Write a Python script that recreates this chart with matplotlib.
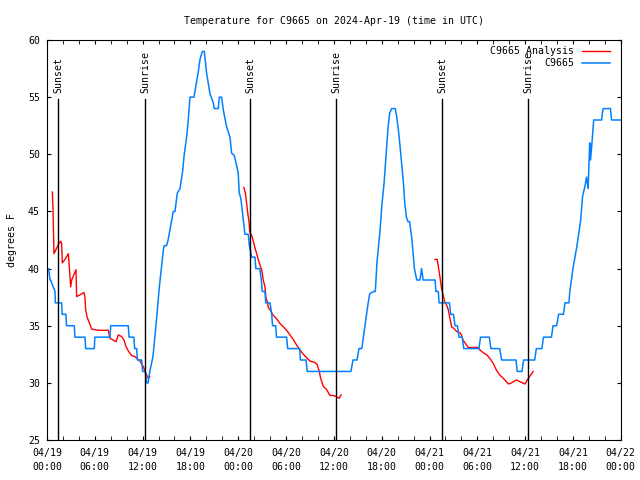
import numpy as np
import pandas as pd
import matplotlib
matplotlib.use('Agg')
import matplotlib.pyplot as plt
import matplotlib.dates as mdates

start = pd.Timestamp('2024-04-19 00:00')

# observed station temps (hours since 04/19 00:00 UTC, deg F)
obs_hours = [0.0, 0.2, 0.38, 0.45, 1.0, 1.05, 1.84, 1.9, 2.38, 2.45,
             3.43, 3.5, 4.77, 4.85, 5.94, 6.0, 7.9, 8.0, 10.2, 10.3,
             10.9, 11.0, 11.25, 11.35, 11.88, 12.0, 12.33, 12.5, 12.7, 12.9,
             13.3, 13.7, 14.1, 14.6, 14.7, 15.0, 15.2, 15.85, 16.06, 16.35,
             16.69, 17.02, 17.19, 17.52, 17.73, 17.94, 18.44, 18.78, 18.98, 19.2,
             19.49, 19.74, 20.03, 20.45, 20.87, 20.99, 21.49, 21.62, 21.91, 22.12,
             22.54, 22.96, 23.17, 23.5, 23.8, 24.0, 24.13, 24.3, 24.4, 24.6,
             24.84, 25.26, 25.4, 25.68, 26.1, 26.2, 26.7, 26.9, 27.0, 27.35,
             27.45, 27.98, 28.2, 28.3, 28.7, 28.8, 30.07, 30.2, 31.7, 31.8,
             32.5, 32.66, 38.14, 38.4, 38.9, 39.15, 39.5, 39.7, 39.9, 40.1,
             40.3, 40.5, 41.0, 41.2, 41.4, 41.8, 42.0, 42.3, 42.6, 42.8,
             43.0, 43.25, 43.7, 43.9, 44.1, 44.3, 44.5, 44.7, 44.9, 45.1,
             45.3, 45.5, 45.8, 46.1, 46.4, 46.8, 47.0, 47.2, 47.4, 48.7,
             48.8, 49.1, 49.2, 50.5, 50.65, 51.0, 51.2, 51.5, 51.7, 52.1,
             52.3, 54.2, 54.4, 55.5, 55.7, 56.8, 57.05, 58.85, 59.0, 59.6,
             59.8, 61.2, 61.4, 62.1, 62.3, 63.3, 63.5, 63.95, 64.2, 64.8,
             65.0, 65.5, 65.6, 65.8, 66.0, 66.5, 66.96, 67.2, 67.5, 67.7,
             67.9, 68.1, 68.2, 68.35, 68.6, 68.96, 69.6, 69.7, 69.8, 70.7,
             70.85, 72.0]
obs_temps = [40, 40, 39, 39, 38, 37, 37, 36, 36, 35,
             35, 34, 34, 33, 33, 34, 34, 35, 35, 34,
             34, 33, 33, 32, 32, 31, 31, 30, 30, 31,
             32.3, 35.2, 38.4, 41.6, 42, 42, 42.5, 45, 45, 46.6,
             47, 48.5, 49.8, 51.5, 53, 55, 55, 56.4, 57.2, 58.3,
             59, 59, 57.1, 55.3, 54.5, 54, 54, 55, 55, 53.9,
             52.4, 51.5, 50.1, 49.9, 49, 48.3, 46.6, 46.2, 45.7, 44.5,
             43, 43, 42, 41, 41, 40, 40, 39, 38, 38,
             37, 37, 36, 35, 35, 34, 34, 33, 33, 32,
             32, 31, 31, 32, 32, 33, 33, 34, 35, 36,
             37, 37.8, 38, 38, 40.5, 43.4, 45.4, 47.5, 50.4, 52.4,
             53.6, 54, 54, 53.2, 52.1, 50.7, 49.2, 47.7, 45.7, 44.5,
             44.1, 44.1, 42.5, 40, 39, 39, 40, 39, 39, 39,
             38, 38, 37, 37, 36, 36, 35, 35, 34, 34,
             33, 33, 34, 34, 33, 33, 32, 32, 31, 31,
             32, 32, 33, 33, 34, 34, 35, 35, 36, 36,
             37, 37, 38, 39, 40, 42, 44.2, 46.3, 47.2, 48,
             47, 51, 49.5, 50.7, 53, 53, 53, 53.7, 54, 54,
             53, 53]

# analysis series, three separate runs
ana1_hours = [0.67, 0.75, 0.88, 1.42, 1.71, 1.84, 1.92, 2.26, 2.68, 2.89,
              2.97, 3.1, 3.64, 3.72, 4.14, 4.64, 4.77, 4.85, 5.06, 5.4,
              5.6, 6.44, 7.7, 7.9, 8.3, 8.66, 8.95, 9.37, 9.66, 9.9,
              10.2, 10.6, 11.04, 11.67, 12.1, 12.3, 12.5, 12.7, 12.9]
ana1_temps = [46.7, 45.4, 41.3, 42.1, 42.4, 42.2, 40.5, 40.8, 41.3, 39.3,
              38.4, 39.0, 39.9, 37.55, 37.7, 37.9, 37.5, 36.4, 35.7, 35.1,
              34.7, 34.6, 34.6, 33.9, 33.75, 33.6, 34.2, 34.05, 33.75, 33.2,
              32.8, 32.4, 32.3, 31.9, 31.4, 31.0, 30.7, 30.4, 30.55]
ana2_hours = [24.7, 24.9, 25.05, 25.2, 25.35, 25.45, 25.68, 25.89, 26.1, 26.31,
              26.51, 26.73, 26.94, 27.14, 27.35, 27.48, 27.64, 27.77, 27.98, 28.4,
              28.82, 29.23, 29.65, 30.07, 30.49, 30.9, 31.33, 31.74, 32.16, 32.58,
              33.0, 33.6, 33.9, 34.17, 34.34, 34.67, 35.1, 35.5, 35.9, 36.3,
              36.67, 36.9]
ana2_temps = [47.1, 46.6, 45.7, 44.8, 44.1, 43.2, 42.9, 42.4, 41.8, 41.3,
              40.8, 40.3, 39.9, 39.0, 38.4, 37.4, 37.1, 36.6, 36.4, 35.9,
              35.6, 35.2, 34.9, 34.6, 34.2, 33.8, 33.3, 32.9, 32.5, 32.2,
              31.9, 31.8, 31.6, 31.0, 30.4, 29.7, 29.4, 28.9, 28.9, 28.8,
              28.65, 28.95]
ana3_hours = [48.68, 48.97, 49.1, 49.3, 49.5, 49.7, 49.9, 50.15, 50.35, 50.56,
              50.78, 51.0, 51.4, 51.8, 52.0, 52.2, 52.45, 52.86, 54.1, 54.3,
              54.7, 55.2, 55.6, 56.0, 56.4, 56.8, 57.25, 57.9, 58.3, 58.9,
              59.35, 59.97, 60.26, 60.6, 61.0]
ana3_temps = [40.8, 40.8, 40.2, 39.3, 38.3, 37.7, 37.1, 36.8, 36.4, 35.65,
              34.9, 34.8, 34.5, 34.4, 34.2, 33.75, 33.5, 33.1, 33.1, 32.9,
              32.65, 32.45, 32.1, 31.7, 31.1, 30.7, 30.4, 29.9, 30.0, 30.25,
              30.1, 29.9, 30.25, 30.6, 31.0]

sun_hours = [1.42, 12.33, 25.5, 36.26, 49.6, 60.4]
sun_labels = ['Sunset', 'Sunrise', 'Sunset', 'Sunrise', 'Sunset', 'Sunrise']


def to_time(h):
    return start + pd.to_timedelta(np.asarray(h, dtype=float), unit='h')


fs = 7.1
plt.rcParams['font.family'] = 'DejaVu Sans Mono'
plt.rcParams['font.size'] = fs

fig = plt.figure(figsize=(6.4, 4.8), dpi=100)
ax = fig.add_axes([0.0734, 0.0833, 0.8966, 0.8334])

red = '#ff0000'
ax.plot(to_time(ana1_hours), ana1_temps, color=red, lw=1, label='C9665 Analysis')
ax.plot(to_time(ana2_hours), ana2_temps, color=red, lw=1)
ax.plot(to_time(ana3_hours), ana3_temps, color=red, lw=1)
ax.plot(to_time(obs_hours), obs_temps, color='#0080ff', lw=1.1, label='C9665')

for h, lab in zip(sun_hours, sun_labels):
    t = to_time([h])[0]
    ax.axvline(t, ymin=0, ymax=0.853, color='black', lw=1)
    ax.text(t, 0.868, lab, rotation=90, ha='center', va='bottom',
            transform=ax.get_xaxis_transform(), fontsize=fs)

ax.set_xlim(start, start + pd.Timedelta(hours=72))
ax.set_ylim(25, 60)
ax.set_yticks(np.arange(25, 61, 5))
ax.xaxis.set_major_locator(mdates.HourLocator(byhour=[0, 6, 12, 18]))
ax.xaxis.set_minor_locator(mdates.HourLocator(byhour=range(0, 24, 2)))
ax.xaxis.set_major_formatter(mdates.DateFormatter('%m/%d\n%H:%M'))
ax.tick_params(which='both', direction='in', top=True, right=True,
               labelsize=fs, length=3.2)
ax.tick_params(axis='x', pad=6)
ax.tick_params(axis='y', pad=5)
for lbl in ax.get_xticklabels():
    lbl.set_linespacing(1.45)

ax.set_ylabel('degrees F', fontsize=fs)
ax.yaxis.set_label_coords(-0.052, 0.5)
ax.set_title('Temperature for C9665 on 2024-Apr-19 (time in UTC)', fontsize=fs, pad=11.5)

ax.legend(loc='upper right', bbox_to_anchor=(1.0, 1.011), frameon=False,
          markerfirst=False, fontsize=fs, handlelength=2.85, borderpad=0.4,
          borderaxespad=0.7, labelspacing=0.2, handletextpad=0.8)

fig.savefig('out.png', dpi=100)
